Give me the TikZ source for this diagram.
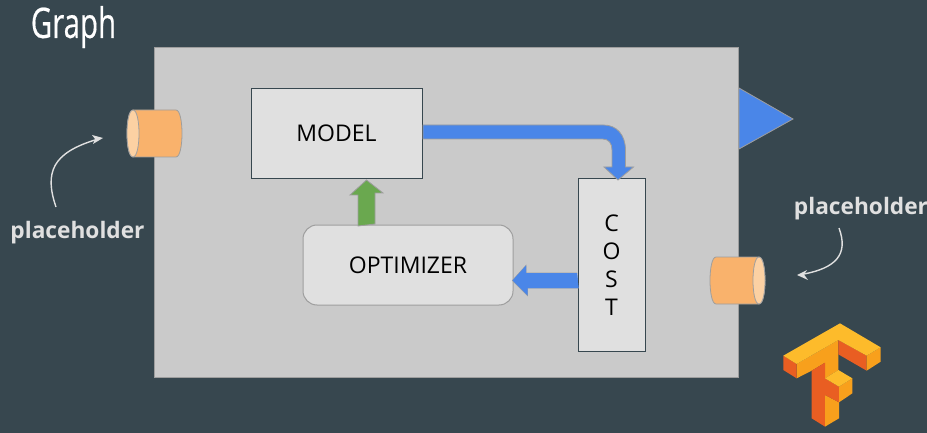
\documentclass[tikz,border=0pt]{standalone}
\usepackage{fontspec}
\setmainfont{Open Sans}
\newfontfamily\titlefont[FakeBold=0.5]{Open Sans}
\usetikzlibrary{calc}
\definecolor{bgc}{HTML}{37474F}
\definecolor{panelc}{HTML}{CACACA}
\definecolor{boxc}{HTML}{E0E0E0}
\definecolor{edgec}{HTML}{9E9E9E}
\definecolor{bluec}{HTML}{4A86E8}
\definecolor{greenc}{HTML}{6AA84F}
\definecolor{orangec}{HTML}{F9B26C}
\definecolor{lightc}{HTML}{FCD1A3}
\definecolor{lgY}{HTML}{FDBB2B}
\definecolor{lgA}{HTML}{F8A01C}
\definecolor{lgR}{HTML}{E95E22}
\tikzset{
  x=1pt,y=-1pt,
  boxnode/.style={draw=bgc,line width=1pt,fill=boxc,inner sep=0pt,font=\fontsize{23}{28}\selectfont,text=black},
  softbox/.style={boxnode,draw=edgec,rounded corners=14pt},
  block/.style={draw=edgec,line width=0.8pt,line join=miter,fill=#1},
  note/.style={text=boxc,font=\fontsize{22.7}{26}\selectfont\bfseries,inner sep=0pt},
  curl/.style={draw=boxc,line width=1.4pt},
  curlhead/.style={fill=boxc,draw=none},
  lg/.style={fill=#1,draw=none},
  drum/.pic={
    \draw[edgec,line width=0.8pt,fill=orangec] (-21.5,-23.5) -- (21.5,-23.5) .. controls (29.5,-23.5) and (29.5,23.5) .. (21.5,23.5) -- (-21.5,23.5) .. controls (-29.5,23.5) and (-29.5,-23.5) .. (-21.5,-23.5) -- cycle;
    \draw[edgec,line width=0.8pt,fill=lightc] (21.5,-23.5) .. controls (29.5,-23.5) and (29.5,23.5) .. (21.5,23.5) .. controls (13.5,23.5) and (13.5,-23.5) .. (21.5,-23.5) -- cycle;
  }
}
\begin{document}
\begin{tikzpicture}
\useasboundingbox (0,0) rectangle (927,433);
\fill[bgc] (0,0) rectangle (927,433);
\node[rectangle,fill=panelc,draw=edgec,line width=0.6pt,minimum width=584pt,minimum height=330pt,inner sep=0pt] (graph) at (446,212) {};
\node[text=white,inner sep=0pt,anchor=center] (title) at (73.5,27) {\scalebox{0.7}[1]{\fontsize{42}{48}\selectfont\titlefont Graph}};

\node[boxnode,minimum width=171pt,minimum height=90pt] (model) at (336.5,133.5) {MODEL};
\node[boxnode,minimum width=67pt,minimum height=173pt,align=center] (cost) at (611.5,265) {C\\O\\S\\T};
\node[softbox,minimum width=210pt,minimum height=80pt] (optimizer) at (408,265) {OPTIMIZER};

% model -> cost
\draw[block=bluec] ([shift={(0.5,-8.5)}]model.east) -- ([shift={(181,-8.5)}]model.east)
  .. controls ([shift={(194,-8.5)}]model.east) and ([shift={(203,1)}]model.east) .. ([shift={(203,17)}]model.east)
  -- ([shift={(203,33.5)}]model.east) -- ([shift={(211,33.5)}]model.east)
  -- ([shift={(6.5,2)}]cost.north) -- ([shift={(-7.5,-11)}]cost.north) -- ([shift={(0.5,-11)}]cost.north)
  -- ([shift={(0.5,-28)}]cost.north)
  .. controls ([shift={(0.5,-35)}]cost.north) and ([shift={(-3,-39)}]cost.north) .. ([shift={(-9,-39)}]cost.north)
  -- ([shift={(0.5,5.5)}]model.east) -- cycle;
% optimizer -> model
\draw[block=greenc] ([shift={(-33,-0.5)}]optimizer.north) -- ++(0,-31) -- ++(8,0)
  -- ([shift={(30,1)}]model.south) -- ++(-16.5,15) -- ++(8,0) -- ++(0,31) -- cycle;
% cost -> optimizer
\draw[block=bluec] ([shift={(-0.5,8)}]cost.west) -- ++(-51,0) -- ++(0,-7.5) -- ([shift={(-1,15.5)}]optimizer.east) -- ++(15,15) -- ++(0,-7.5) -- ++(51,0);
\fill[bluec] ([shift={(-0.5,8)}]cost.west) -- ++(-51,0) -- ++(0,-7.5) -- ([shift={(-1,15.5)}]optimizer.east) -- ++(15,15) -- ++(0,-7.5) -- ++(51,0) -- cycle;

% output triangle
\node[inner sep=0pt] (out) at (766,118.5) {};
\draw[block=bluec] ([shift={(-27,-30.5)}]out.center) -- ([shift={(27,0.5)}]out.center) -- ([shift={(-27,30.5)}]out.center) -- cycle;

% placeholders
\path (154.5,133.5) pic[xscale=-1] {drum};
\path (737.5,280.5) pic {drum};
\node[note] (phl) at (77.5,232.5) {placeholder};
\node[note] (phr) at (861,208.5) {placeholder};

\coordinate (la) at (56,207);
\coordinate (lb) at (103,138);
\draw[curl] (la) .. controls (44,172) and (53,153) .. (95,140);
\path[curlhead,fill=boxc] (lb) -- (92,135) -- (95,139) -- (93,144) -- cycle;
\coordinate (ra) at (839,228);
\coordinate (rb) at (797,275);
\draw[curl] (ra) .. controls (849,255) and (835,268) .. (804,274);
\path[curlhead,fill=boxc] (rb) -- (807,270) -- (804,274.5) -- (808,280) -- cycle;

% logo
\begin{scope}[shift={(770,315)},x=0.3333pt,y=-0.3333pt]
\fill[lg=lgA] (80,147) -- (205,75) -- (205,165) -- (165,190) -- (165,143) -- (125,167) -- (80,190) -- cycle;
\fill[lg=lgR] (125,167) -- (165,143) -- (165,335) -- (125,310) -- cycle;
\fill[lg=lgA] (165,240) -- (207,262) -- (207,310) -- (165,335) -- cycle;
\fill[lg=lgR] (165,190) -- (207,215) -- (207,262) -- (165,240) -- cycle;
\fill[lg=lgA] (207,215) -- (247,190) -- (247,235) -- (207,262) -- cycle;
\fill[lg=lgY] (165,190) -- (205,165) -- (247,190) -- (207,215) -- cycle;
\fill[lg=lgR] (40,122) -- (80,147) -- (80,190) -- (40,165) -- cycle;
\fill[lg=lgR] (205,75) -- (290,122) -- (290,167) -- (205,118) -- cycle;
\fill[lg=lgA] (290,122) -- (332,97) -- (332,140) -- (290,167) -- cycle;
\fill[lg=lgY] (40,122) -- (210,25) -- (332,97) -- (290,122) -- (205,75) -- (80,147) -- cycle;
\end{scope}
\end{tikzpicture}
\end{document}
